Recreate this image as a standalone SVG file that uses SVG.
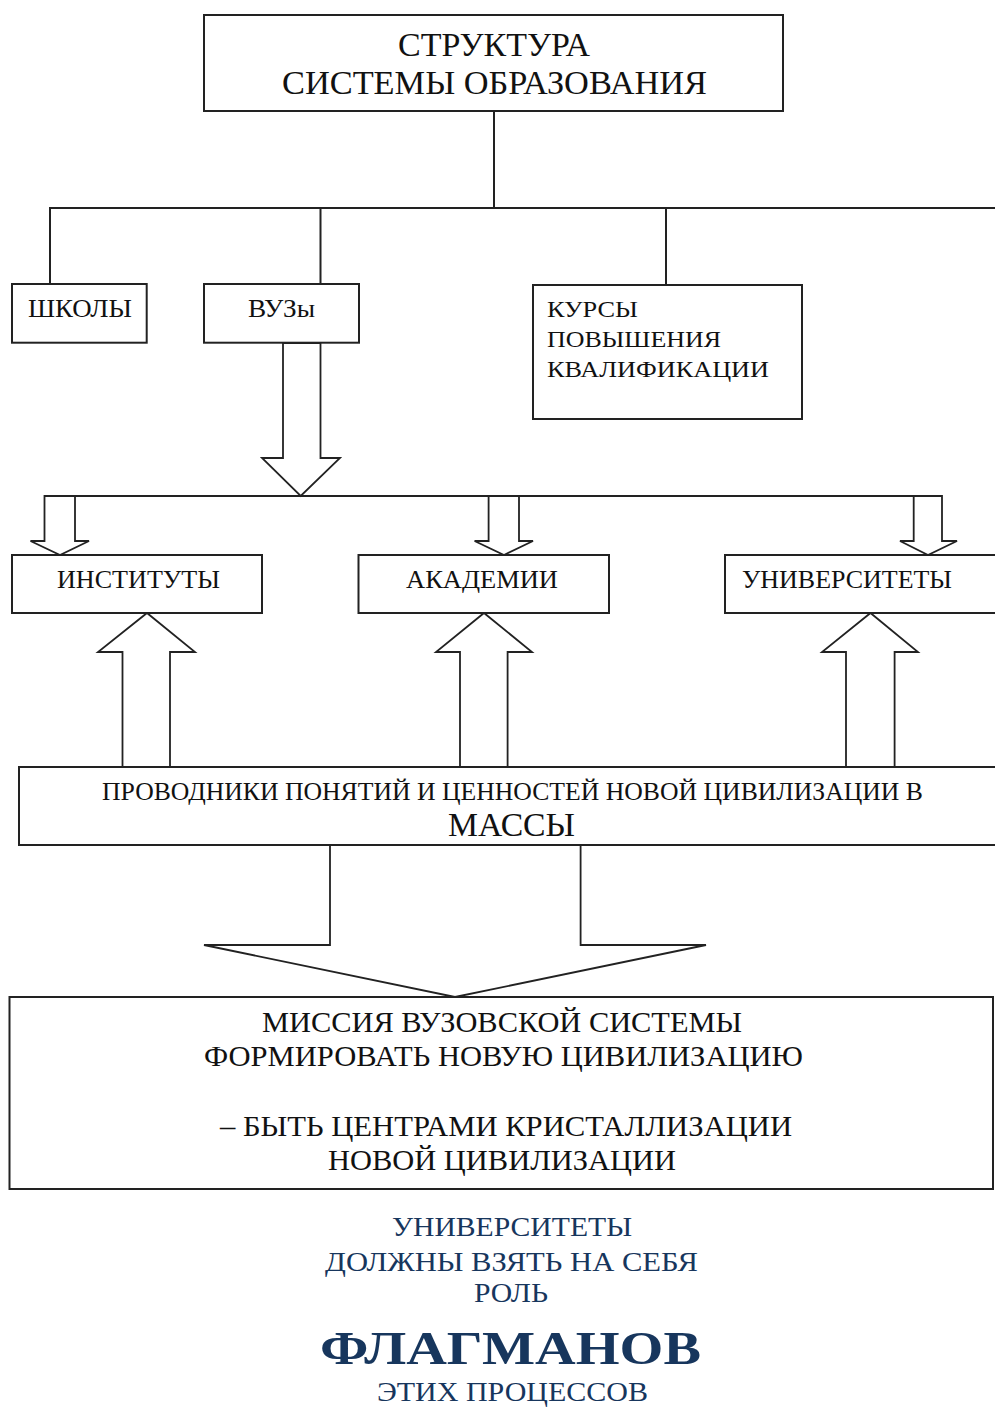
<svg xmlns="http://www.w3.org/2000/svg" width="995" height="1407" viewBox="0 0 995 1407">
<style>
.bx{fill:#fff;stroke:#222;stroke-width:2}
.ln{fill:none;stroke:#222;stroke-width:2}
.ar{fill:#fff;stroke:#222;stroke-width:1.8;stroke-linejoin:miter}
.t{font-family:"Liberation Serif","Times New Roman",serif;fill:#111}
.b{font-family:"Liberation Serif","Times New Roman",serif;fill:#17365d}
</style>
<rect width="995" height="1407" fill="#fff"/>
<g id="connectors">
<path class="ln" d="M494,111 V208 M49,208 H998 M50,208 V284 M320.5,208 V284 M666,208 V285 M44,496 H942"/>
<polygon class="ar" points="283,343 283,458 262,458 300.7,496 340,458 320.5,458 320.5,343"/>
<polygon class="ar" points="44.5,496 44.5,541 30.5,541 60,555 89,541 75,541 75,496"/>
<polygon class="ar" points="488.6,496 488.6,541 474.6,541 504,555 533,541 519,541 519,496"/>
<polygon class="ar" points="913.7,496 913.7,541 900,541 928,555 957,541 942,541 942,496"/>
<polygon class="ar" points="122.5,767 122.5,652 98,652 147,613 195,652 170,652 170,767"/>
<polygon class="ar" points="460,767 460,652 436,652 484,613 532,652 507.6,652 507.6,767"/>
<polygon class="ar" points="846,767 846,652 822,652 870.5,613 918,652 894.6,652 894.6,767"/>
<polygon class="ar" points="330,845 330,945 204,945 455,997 706,945 580.6,945 580.6,845"/>
</g>
<g id="title">
<rect class="bx" x="204" y="15" width="579" height="96"/>
<text class="t" x="494" y="56" font-size="33" text-anchor="middle" textLength="192" lengthAdjust="spacingAndGlyphs">СТРУКТУРА</text>
<text class="t" x="494.5" y="94" font-size="33" text-anchor="middle" textLength="425" lengthAdjust="spacingAndGlyphs">СИСТЕМЫ  ОБРАЗОВАНИЯ</text>
</g>
<g id="schools">
<rect class="bx" x="12" y="284" width="134.7" height="58.7"/>
<text class="t" x="28" y="317" font-size="25" textLength="104" lengthAdjust="spacingAndGlyphs">ШКОЛЫ</text>
</g>
<g id="vuzy">
<rect class="bx" x="204" y="284" width="155" height="58.7"/>
<text class="t" x="248" y="317" font-size="25" textLength="67" lengthAdjust="spacingAndGlyphs">ВУЗы</text>
</g>
<g id="courses">
<rect class="bx" x="533" y="285" width="269" height="134"/>
<text class="t" x="547" y="317" font-size="24" textLength="91" lengthAdjust="spacingAndGlyphs">КУРСЫ</text>
<text class="t" x="547" y="347" font-size="24" textLength="174" lengthAdjust="spacingAndGlyphs">ПОВЫШЕНИЯ</text>
<text class="t" x="547" y="377" font-size="24" textLength="222" lengthAdjust="spacingAndGlyphs">КВАЛИФИКАЦИИ</text>
</g>
<g id="institutes">
<rect class="bx" x="12" y="555" width="250" height="58"/>
<text class="t" x="57" y="588" font-size="26" textLength="163" lengthAdjust="spacingAndGlyphs">ИНСТИТУТЫ</text>
</g>
<g id="academies">
<rect class="bx" x="358.5" y="555" width="250.5" height="58"/>
<text class="t" x="406" y="588" font-size="26" textLength="152" lengthAdjust="spacingAndGlyphs">АКАДЕМИИ</text>
</g>
<g id="universities">
<rect class="bx" x="725" y="555" width="280" height="58"/>
<text class="t" x="742" y="588" font-size="26" textLength="210" lengthAdjust="spacingAndGlyphs">УНИВЕРСИТЕТЫ</text>
</g>
<g id="conductors">
<rect class="bx" x="19" y="767" width="990" height="78"/>
<text class="t" x="102" y="800" font-size="26" textLength="821" lengthAdjust="spacingAndGlyphs">ПРОВОДНИКИ ПОНЯТИЙ И ЦЕННОСТЕЙ НОВОЙ ЦИВИЛИЗАЦИИ В</text>
<text class="t" x="448" y="836" font-size="33" textLength="127" lengthAdjust="spacingAndGlyphs">МАССЫ</text>
</g>
<g id="mission">
<rect class="bx" x="9.5" y="997" width="983.5" height="192"/>
<text class="t" x="262" y="1032" font-size="29" textLength="480" lengthAdjust="spacingAndGlyphs">МИССИЯ ВУЗОВСКОЙ СИСТЕМЫ</text>
<text class="t" x="204" y="1066" font-size="29" textLength="599" lengthAdjust="spacingAndGlyphs">ФОРМИРОВАТЬ НОВУЮ ЦИВИЛИЗАЦИЮ</text>
<text class="t" x="220" y="1136" font-size="29" textLength="572" lengthAdjust="spacingAndGlyphs">– БЫТЬ ЦЕНТРАМИ КРИСТАЛЛИЗАЦИИ</text>
<text class="t" x="328" y="1170" font-size="29" textLength="348" lengthAdjust="spacingAndGlyphs">НОВОЙ ЦИВИЛИЗАЦИИ</text>
</g>
<g id="footer">
<text class="b" x="392" y="1236" font-size="28" textLength="240" lengthAdjust="spacingAndGlyphs">УНИВЕРСИТЕТЫ</text>
<text class="b" x="325" y="1271" font-size="28" textLength="373" lengthAdjust="spacingAndGlyphs">ДОЛЖНЫ ВЗЯТЬ НА СЕБЯ</text>
<text class="b" x="474" y="1302" font-size="28" textLength="74" lengthAdjust="spacingAndGlyphs">РОЛЬ</text>
<text class="b" x="320" y="1364" font-size="47" font-weight="bold" textLength="381" lengthAdjust="spacingAndGlyphs">ФЛАГМАНОВ</text>
<text class="b" x="377" y="1401" font-size="28" textLength="271" lengthAdjust="spacingAndGlyphs">ЭТИХ ПРОЦЕССОВ</text>
</g>
</svg>
